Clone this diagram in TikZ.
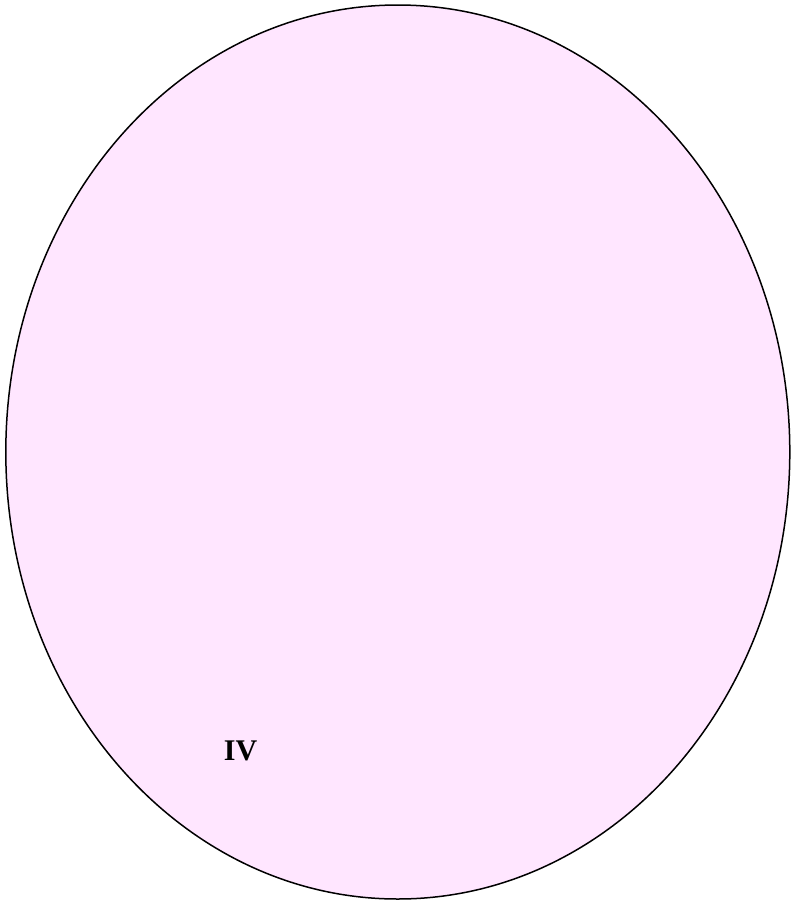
\documentclass[tikz,border=0pt]{standalone}
\usepackage{fontspec}
\setmainfont{Liberation Serif}
\definecolor{pinkfill}{HTML}{FFE6FF}
\begin{document}
\begin{tikzpicture}[x=1pt,y=-1pt,
  region/.style={draw=black,line width=1.5pt,fill=pinkfill},
  lbl/.style={font=\fontsize{30}{33}\selectfont\bfseries,inner sep=0pt}]
\useasboundingbox (0,0) rectangle (791,906);
\path[region] (397.8,452) ellipse [x radius=392, y radius=447];
\node[lbl,anchor=base] (iv) at (240.5,760) {IV};
\end{tikzpicture}
\end{document}
